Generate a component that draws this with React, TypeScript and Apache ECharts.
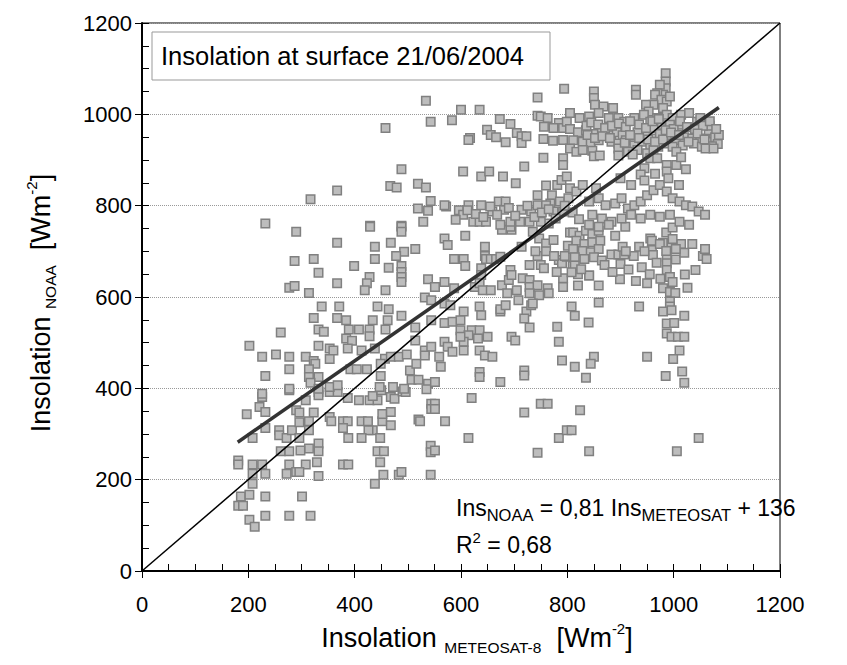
import React, { useEffect, useRef } from "react";
import * as echarts from "echarts";

const FONT = "'Liberation Sans', Arial, sans-serif";

const axisMin = 0;
const axisMax = 1200;
const axisStep = 200;

const legendTitle = "Insolation at surface 21/06/2004";
const equationText = "{m|Ins}{s|NOAA}{m| = 0,81 Ins}{s|METEOSAT}{m| + 136}";
const r2Text = "{m|R}{p|2}{m| = 0,68}";
const xTitle = "{a|Insolation }{s|METEOSAT-8}{a|  [Wm}{p|-2}{a|]}";
const yTitle = "{a|Insolation }{s|NOAA}{a|  [Wm}{p|-2}{a|]}";

const identityLine = [[0, 0], [1200, 1200]];
const trendLine = [[180, 282], [1085, 1015]];

const lowLeftPoints = [
  [226,381],[221,359],[232,348],[197,343],[277,396],[290,352],[232,313],[208,291],[258,308],[258,297],
  [272,291],[282,308],[261,262],[277,262],[181,242],[181,233],[208,233],[208,213],[226,233],[232,213],
  [277,233],[272,213],[290,217],[208,191],[186,163],[202,167],[181,143],[190,143],[232,163],[232,121],
  [277,121],[202,112],[212,97],[232,761],[290,743],[287,679],[277,620],[287,624],[261,522],[202,493],
  [226,469],[252,474],[277,469],[277,442],[232,427],[277,399],[226,388]
];

const lowMidPoints = [
  [308,374],[332,392],[332,385],[353,392],[368,392],[387,379],[408,374],[428,374],[443,374],[434,383],
  [450,396],[468,381],[475,377],[490,393],[496,392],[296,347],[323,347],[353,337],[356,328],[296,326],
  [314,328],[378,328],[387,328],[378,313],[413,328],[425,328],[452,328],[452,344],[468,348],[468,319],
  [434,308],[426,308],[314,308],[296,291],[388,291],[413,291],[448,291],[520,332],[523,328],[544,366],
  [544,355],[332,279],[332,262],[314,268],[298,264],[443,262],[455,262],[329,238],[308,233],[296,217],
  [378,233],[388,233],[448,238],[332,208],[454,211],[483,211],[488,217],[543,211],[543,274],[543,260],
  [438,191],[301,163],[317,121],
  [620,379],[750,366],[763,366],[719,347],[551,366],[551,355],[570,328],[614,291],[784,291],[799,308],
  [744,259],[551,264],[824,352],[808,308],[841,262],[1006,262],[1047,291]
];

const upperLeftPoints = [
  [534,1030],[543,984],[458,970],[488,880],[467,843],[479,840],[519,848],[534,840],[367,833],[317,814],
  [543,810],[538,789],[519,794],[529,765],[429,756],[488,756],
  [429,754],[488,754],[488,743],[367,719],[438,710],[468,719],[493,699],[478,690],[514,705],[323,683],
  [399,668],[438,683],[464,664],[488,668],[488,655],[488,644],[488,633],[332,653],[428,644],[423,630],
  [419,615],[367,630],[458,615],[314,609],[538,639],[551,622],[532,599],[544,593],[338,579],[371,579],
  [443,579],[464,573],[323,554],[367,554],[384,549],[434,549],[462,549],[488,559],[514,533],[544,549],
  [332,529],[342,524],[389,529],[408,529],[428,529],[458,529],[384,509],[395,504],[428,514],[332,493],
  [353,487],[360,483],[387,487],[413,483],[438,487],[514,505],[532,483],[544,491],[308,469],[323,460],
  [326,454],[353,464],[457,465],[468,469],[483,469],[498,474],[314,442],[314,425],[332,425],[317,412],
  [392,442],[404,442],[423,442],[449,454],[449,427],[504,439],[516,454],[532,472],[507,419],[520,419],
  [538,410],[353,403],[368,407],[332,399],[447,403],[472,403],[493,399],[535,398]
];

const centralPoints = [
  [569,728],[575,714],[608,734],[645,710],[645,690],[587,683],[605,683],[608,668],[647,683],[656,683],
  [666,683],[674,688],[695,747],[693,754],[677,747],[714,710],[735,743],[747,728],[760,717],[744,690],
  [765,761],[774,725],[729,670],[750,670],[756,663],[784,681],[790,674],[799,688],[638,663],[638,648],
  [693,659],[551,622],[569,633],[587,619],[626,622],[635,630],[641,615],[656,615],[677,626],[690,637],
  [695,648],[716,641],[729,637],[729,622],[744,626],[763,619],[792,641],[792,622],[687,608],[705,615],
  [729,608],[747,604],[765,608],[569,586],[580,582],[605,568],[635,579],[638,560],[569,543],[584,546],
  [599,549],[599,527],[620,527],[635,527],[674,568],[674,573],[684,582],[708,593],[723,568],[732,582],
  [735,586],[719,553],[729,533],[650,513],[632,509],[614,516],[605,502],[599,513],[569,502],[575,491],
  [584,480],[559,469],[562,447],[605,483],[635,483],[645,472],[659,469],[695,513],[702,505],[781,535],
  [784,502],[719,439],[719,428],[635,436],[635,425],[674,414],[551,414],[790,461],
  [805,741],[801,712],[795,690],[760,700],[775,690],[810,668],[820,650],[780,655],[740,700]
];

const rightMidPoints = [
  [883,693],[896,693],[907,693],[935,710],[956,728],[959,703],[961,692],[890,734],[904,710],[909,754],
  [899,639],[929,635],[950,630],[820,625],[859,625],[841,647],[859,588],[935,579],[814,559],[840,544],
  [808,579],[850,469],[844,454],[814,447],[835,423],[950,469],[980,719],[996,716],[1014,716],[1035,716],
  [1055,690],[987,688],[987,674],[1004,682],[1020,697],[1041,659],[1021,649],[987,659],[993,644],[998,633],
  [980,619],[993,611],[1003,609],[1026,620],[993,590],[993,579],[980,568],[996,571],[1020,559],[987,542],
  [1001,543],[987,520],[996,513],[1008,513],[1020,513],[1011,483],[999,464],[1016,437],[985,427],[1020,412],
  [811,741],[823,734],[835,745],[847,738],[859,745],[817,723],[832,716],[847,720],[862,723],[811,705],
  [829,701],[844,698],[859,705],[814,687],[832,683],[850,687],[865,680],[814,669],[808,654],[841,647],
  [826,661],[959,723],[974,716],[986,741],[998,727],[986,701],[1004,705],[998,752],[1059,705],[1062,683],
  [870,670],[885,655],[900,672],[915,660],[925,690],[940,665],[955,650],[968,675],[975,640],[945,700],
  [910,700]
];

const upperMidPoints = [
  [794,1056],[744,1037],[600,1010],[635,1010],[583,987],[673,990],[693,979],[744,997],[750,995],[763,992],
  [784,981],[756,973],[774,970],[792,970],[799,984],[649,966],[656,955],[666,950],[617,948],[614,944],
  [684,939],[705,959],[714,952],[714,937],[723,952],[755,946],[773,942],[792,944],[755,905],[792,904],
  [792,889],[604,875],[638,864],[653,875],[679,864],[703,849],[719,886],[760,844],[781,845],[789,856],
  [799,864],[744,823],[771,823],[768,805],[786,809],[774,787],[792,787],[802,816],[572,798],[569,801],
  [596,790],[614,801],[604,780],[590,769],[623,765],[635,765],[647,765],[638,801],[659,787],[671,809],
  [681,791],[684,809],[674,758],[693,765],[711,765],[714,791],[732,787],[729,765],[750,765],[744,801],
  [760,801],
  [612,790],[628,782],[642,775],[655,798],[668,780],[690,795],[702,778],[725,800],[738,775],[752,785],
  [765,792],[778,772],[795,800],[810,785],[822,770]
];

const upperRightPoints = [
  [985,1090],[985,1072],[985,1057],[980,1043],[974,1065],[969,1046],[850,1050],[850,1036],[852,1021],[929,1054],
  [929,1043],[965,1043],[977,1032],[987,1028],[993,1039],[962,1021],[980,1014],[948,1021],[953,1006],[886,1014],
  [868,1017],[805,1003],[823,992],[841,995],[859,1003],[878,992],[896,992],[907,984],[926,992],[944,999],
  [956,984],[969,992],[987,999],[998,992],[1014,999],[1029,1003],[1044,984],[1050,992],[974,977],[993,977],
  [1011,977],[962,970],
  [805,968],[820,961],[835,965],[850,957],[865,961],[878,954],[893,961],[904,954],[920,950],[932,961],
  [948,954],[962,947],[974,957],[987,950],[1005,943],[1020,950],[1035,947],[1050,940],[1062,947],
  [811,943],[829,940],[844,936],[859,943],[883,940],[896,936],[910,943],[926,932],[941,940],[956,932],
  [971,929],[987,936],[998,929],[1017,932],[1038,936],[1053,929],
  [805,925],[817,918],[829,922],[847,920],[896,925],[914,918],[932,922],[950,915],[962,922],[1005,918],
  [850,908],[861,910],[896,910],[923,912],[956,904],[969,904],[987,889],[1005,889],[1014,906],[1023,880],
  [987,875],[945,882],[938,868],
  [805,838],[817,831],[829,845],[854,838],[859,816],[841,809],[872,801],[890,805],[902,816],[914,794],
  [926,801],[938,809],[950,823],[962,834],[974,845],[987,831],[998,816],[1011,809],[1023,801],[1035,798],
  [1047,787],[1059,780],[847,780],[865,772],[883,765],[902,772],[920,780],[938,772],[956,780],[974,776],
  [993,780],[1011,765],[1029,758],[841,758],[859,754],[878,758],
  [1070,945],[1075,958],[1080,940],[1066,965],[1078,950],[1083,935],[1072,930],[1085,955],[1068,975],[1060,925],
  [836,975],[845,982],[858,978],[871,970],[884,975],[897,980],[910,972],[918,985],[935,978],[948,970],
  [960,985],[972,990],[985,965],[1000,968],[1012,985],[1025,972],[1040,968],[1055,975],[1068,985],[1080,968],
  [838,955],[852,948],[866,952],[880,948],[908,938],[918,955],[935,948],[952,945],[965,940],[980,945],
  [995,960],[1010,955],[1028,940],[1045,958],[1058,945],[1075,925],
  [900,860],[920,845],[945,855],[965,870],[990,860],[1010,845]
];

const allPoints = [
  ...lowLeftPoints,
  ...lowMidPoints,
  ...upperLeftPoints,
  ...centralPoints,
  ...rightMidPoints,
  ...upperMidPoints,
  ...upperRightPoints,
];

const titleRich = {
  a: { fontSize: 27, fontFamily: FONT, color: "#000", lineHeight: 34, verticalAlign: "middle" },
  s: { fontSize: 15.5, fontFamily: FONT, color: "#000", lineHeight: 21, verticalAlign: "bottom" },
  p: { fontSize: 15, fontFamily: FONT, color: "#000", lineHeight: 20, verticalAlign: "top" },
};

const textRich = {
  m: { fontSize: 23, fontFamily: FONT, fill: "#000", color: "#000", lineHeight: 30, verticalAlign: "middle" },
  s: { fontSize: 16.5, fontFamily: FONT, fill: "#000", color: "#000", lineHeight: 20, verticalAlign: "bottom" },
  p: { fontSize: 15, fontFamily: FONT, fill: "#000", color: "#000", lineHeight: 20, verticalAlign: "top" },
};

function makeAxes(kind: "x" | "y") {
  const isX = kind === "x";
  const main: any = {
    type: "value",
    min: axisMin,
    max: axisMax,
    interval: axisStep,
    position: isX ? "bottom" : "left",
    axisLine: { show: true, onZero: false, lineStyle: { color: "#000", width: 2 } },
    axisTick: { show: true, inside: true, length: 7, lineStyle: { color: "#000", width: 1 } },
    minorTick: { show: true, splitNumber: 4, length: 7, lineStyle: { color: "#000", width: 1 } },
    axisLabel: {
      margin: isX ? 22 : 10,
      fontSize: 22,
      color: "#000",
      fontFamily: FONT,
      formatter: (v: number) => String(v),
    },
    splitLine: isX
      ? { show: false }
      : { show: true, lineStyle: { color: "#999", type: "dotted", width: 1 } },
    name: isX ? xTitle : yTitle,
    nameLocation: "middle",
    nameGap: isX ? 50 : 84,
    nameTextStyle: {
      rich: titleRich,
      padding: isX ? [0, 0, 0, 32] : [0, 12, 0, 0],
    },
  };
  const outer: any = {
    type: "value",
    min: axisMin,
    max: axisMax,
    interval: axisStep,
    position: isX ? "bottom" : "left",
    axisLine: { show: false },
    axisTick: { show: true, inside: false, length: 7, lineStyle: { color: "#000", width: 1 } },
    axisLabel: { show: false },
    splitLine: { show: false },
  };
  return [main, outer];
}

export default function App() {
  const ref = useRef<HTMLDivElement>(null);
  useEffect(() => {
    if (!ref.current) return;
    const chart = echarts.init(ref.current, undefined, { renderer: "svg" });
    chart.setOption({
      animation: false,
      backgroundColor: "#fff",
      grid: {
        left: 142,
        right: 67,
        top: 23,
        bottom: 94,
        show: true,
        borderColor: "#000",
        borderWidth: 1,
        backgroundColor: "transparent",
      },
      xAxis: makeAxes("x"),
      yAxis: makeAxes("y"),
      series: [
        {
          type: "scatter",
          data: allPoints,
          symbol: "rect",
          symbolSize: 8.5,
          itemStyle: { color: "#bdbdbd", borderColor: "#808080", borderWidth: 1.5, opacity: 1 },
          z: 2,
        },
        {
          type: "line",
          data: trendLine,
          symbol: "none",
          lineStyle: { color: "#333", width: 3.5 },
          z: 3,
        },
        {
          type: "line",
          data: identityLine,
          symbol: "none",
          lineStyle: { color: "#000", width: 1.5 },
          z: 4,
        },
      ],
      graphic: [
        {
          type: "rect",
          shape: { x: 152, y: 32, width: 398, height: 48 },
          style: { fill: "#fff", stroke: "#999", lineWidth: 1 },
          z: 10,
        },
        {
          type: "text",
          x: 161,
          y: 56,
          style: {
            text: legendTitle,
            font: `25.5px ${FONT}`,
            fill: "#000",
            verticalAlign: "middle",
          },
          z: 11,
        },
        {
          type: "text",
          x: 456,
          y: 508,
          style: { text: equationText, rich: textRich, fill: "#000", verticalAlign: "middle" },
          z: 11,
        },
        {
          type: "text",
          x: 456,
          y: 545,
          style: { text: r2Text, rich: textRich, fill: "#000", verticalAlign: "middle" },
          z: 11,
        },
      ],
    });
    return () => chart.dispose();
  }, []);
  return (
    <div
      ref={ref}
      style={{ position: "absolute", left: 0, top: 0, width: 847, height: 665, background: "#fff" }}
    />
  );
}
